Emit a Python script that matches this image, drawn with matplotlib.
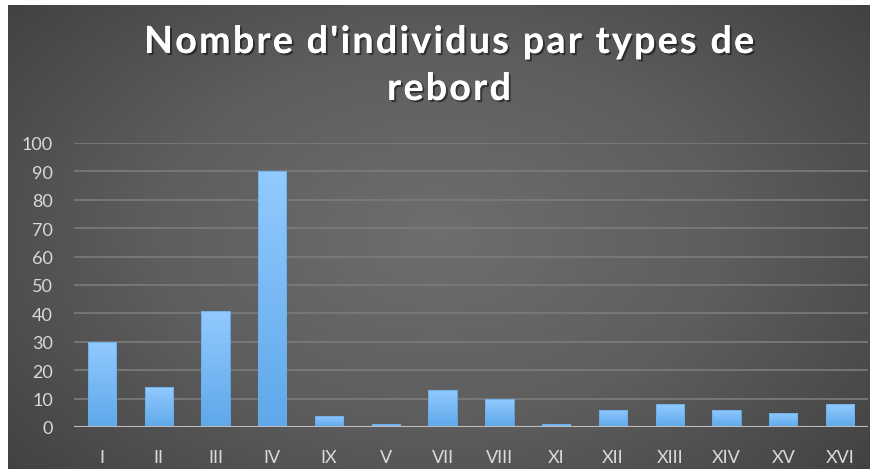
import numpy as np
import matplotlib.pyplot as plt
import matplotlib.patheffects as pe
from matplotlib.colors import LinearSegmentedColormap

# Data
types = ['I', 'II', 'III', 'IV', 'IX', 'V', 'VII', 'VIII', 'XI', 'XII', 'XIII', 'XIV', 'XV', 'XVI']
counts = [30, 14, 41, 90, 4, 1, 13, 10, 1, 6, 8, 6, 5, 8]
yticks = [0, 10, 20, 30, 40, 50, 60, 70, 80, 90, 100]
title_lines = ["Nombre d'individus par types de", "rebord"]

W, H = 877, 477
fig = plt.figure(figsize=(W / 100, H / 100), dpi=100, facecolor='white')

# dark panel with radial gradient
bg = fig.add_axes([8 / W, 7 / H, 862 / W, 464 / H])
yy, xx = np.mgrid[0:1:300j, 0:1:500j]
r = np.sqrt(((xx - 0.5) / 0.75) ** 2 + ((yy - 0.5) / 0.9) ** 2)
r = np.clip(r / r.max(), 0, 1)
bg_cmap = LinearSegmentedColormap.from_list('bg', ['#6e6e6e', '#5e5e5e', '#424242'])
bg.imshow(r, cmap=bg_cmap, aspect='auto', extent=[0, 1, 0, 1])
bg.axis('off')

ax = fig.add_axes([73.6 / W, 49 / H, 794.8 / W, 284 / H])
ax.patch.set_alpha(0)
x = np.arange(len(types))
bars = ax.bar(x, counts, width=0.5, color='none', edgecolor='#6aaeea', linewidth=0.6, zorder=3)

bar_cmap = LinearSegmentedColormap.from_list('bar', ['#5ea8ea', '#92caff'])
grad = np.linspace(0, 1, 100).reshape(-1, 1)
for b in bars:
    im = ax.imshow(grad, cmap=bar_cmap, origin='lower', aspect='auto',
                   extent=[b.get_x(), b.get_x() + b.get_width(), 0, b.get_height()], zorder=2)
    im.set_clip_path(b)

ax.set_xlim(-0.5, len(types) - 0.5)
ax.set_ylim(0, 100)
ax.set_yticks(yticks)
ax.set_xticks(x)
ax.set_xticklabels(types)
ax.grid(axis='y', color='#7c7c7c', linewidth=1.2, zorder=0)
ax.axhline(0, color='#bdbdbd', linewidth=1.5, zorder=4)
for s in ax.spines.values():
    s.set_visible(False)
ax.tick_params(length=0, labelsize=13, labelcolor='#d9d9d9')
ax.tick_params(axis='y', pad=15)
ax.tick_params(axis='x', pad=16)
for lbl in ax.get_xticklabels() + ax.get_yticklabels():
    lbl.set_family('Lato')

# title with extra letter spacing (Excel style)
renderer = fig.canvas.get_renderer()
tkw = dict(fontsize=27, fontweight='bold', family='Lato', color='white')
shadow = [pe.withSimplePatchShadow(offset=(1.5, -1.5), shadow_rgbFace='black', alpha=0.45), pe.Normal()]


def text_w(s):
    t = fig.text(0, 0, s, **tkw)
    w = t.get_window_extent(renderer).width
    t.remove()
    return w


base = text_w('aa')
line1 = title_lines[0]
natural = sum(text_w('a' + c + 'a') - base for c in line1)
spacing = (610 - natural) / (len(line1) - 1)

for line, yc in zip(title_lines, [43, 90]):
    widths = [text_w('a' + c + 'a') - base for c in line]
    total = sum(widths) + spacing * (len(line) - 1)
    xp = 449 - total / 2
    for c, w in zip(line, widths):
        fig.text(xp / W, 1 - yc / H, c, ha='left', va='center', path_effects=shadow, **tkw)
        xp += w + spacing

fig.savefig('out.png', dpi=100, facecolor='white')
